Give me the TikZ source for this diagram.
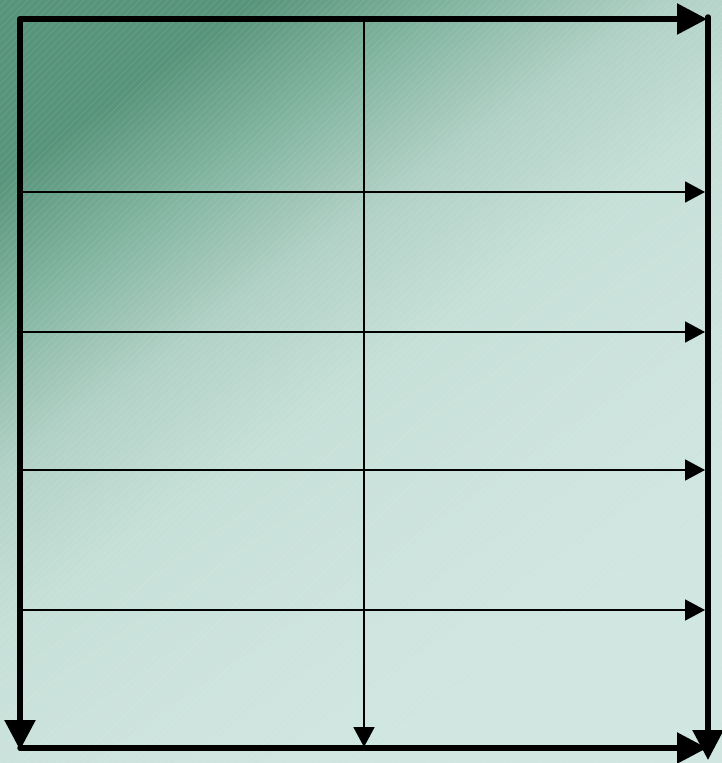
\documentclass[tikz,border=0pt]{standalone}
\usetikzlibrary{arrows.meta}
\definecolor{c0}{RGB}{88,148,123}
\definecolor{c1}{RGB}{132,182,162}
\definecolor{c2}{RGB}{178,209,198}
\definecolor{c3}{RGB}{198,224,216}
\definecolor{c4}{RGB}{205,228,222}
\definecolor{c5}{RGB}{208,230,224}
\pgfdeclarehorizontalshading{bgdiag}{100bp}{
  color(0bp)=(c0);
  color(25bp)=(c0);
  color(33bp)=(c1);
  color(41bp)=(c2);
  color(50bp)=(c3);
  color(62bp)=(c4);
  color(72bp)=(c5);
  color(100bp)=(c5)}
\tikzset{
  thickarrow/.style={line width=5.5pt,line cap=round,-{Triangle[length=30pt,width=30pt]}},
  thinarrow/.style={line width=1.8pt,-{Triangle[length=20pt,width=21pt]}},
}
\begin{document}
\begin{tikzpicture}[x=1pt,y=-1pt]
\useasboundingbox (0,0) rectangle (722,763);
\shade[shading=bgdiag,shading angle=-55] (0,0) rectangle (722,763);
\begin{scope}
\clip (0,0) rectangle (722,763);
\foreach \k in {0,7,...,1500} {
  \draw[white,opacity=0.12,line width=0.6pt] (\k-800,800) -- (\k,0);
}
\end{scope}
% coordinates
\coordinate (TL) at (20,19);
\coordinate (TR) at (707,19);
\coordinate (RT) at (708,17);
\coordinate (RB) at (708,760);
\coordinate (LB) at (20,750);
\coordinate (BL) at (20,748);
\coordinate (BR) at (707,748);
\coordinate (MT) at (364,19);
\coordinate (MB) at (364,747);
\foreach \i/\y in {1/192,2/332,3/470,4/610} {
  \coordinate (h\i s) at (20,\y);
  \coordinate (h\i e) at (705,\y);
}
% thin lines
\foreach \i in {1,2,3,4} {
  \draw[thinarrow] (h\i s) -- (h\i e);
}
\draw[thinarrow] (MT) -- (MB);
% thick frame
\draw[thickarrow] (TL) -- (TR);
\draw[thickarrow] (RT) -- (RB);
\draw[thickarrow] (TL) -- (LB);
\draw[thickarrow] (BL) -- (BR);
\end{tikzpicture}
\end{document}
